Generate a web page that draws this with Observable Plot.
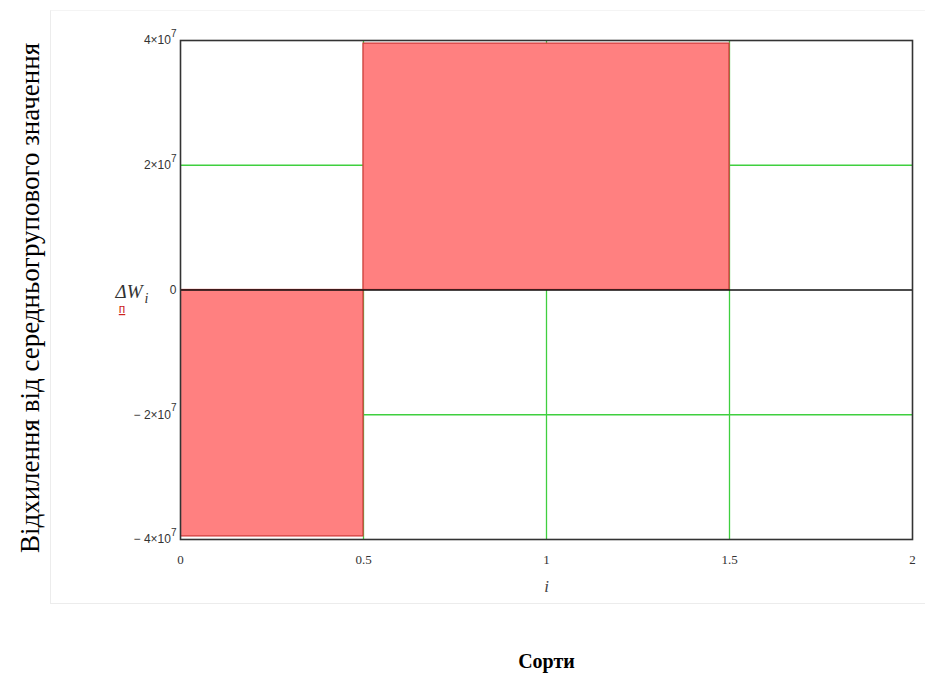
<!DOCTYPE html>
<html>
<head>
<meta charset="utf-8">
<script src="https://cdn.jsdelivr.net/npm/d3@7"></script>
<script src="https://cdn.jsdelivr.net/npm/@observablehq/plot@0.6"></script>
<style>
  html, body { margin: 0; padding: 0; background: #fff; }
  #wrap { position: relative; width: 930px; height: 673px; }
  #region { position: absolute; left: 50px; top: 10px; width: 875px; height: 594px; border-left: 1px solid #ececec; border-bottom: 1px solid #ececec; border-top: 1px solid #f4f4f4; box-sizing: border-box; }
  #chart { position: absolute; left: 0; top: 0; }
</style>
</head>
<body>
<div id="wrap"><div id="region"></div><div id="chart"></div></div>
<script>
const index = [0, 1];
const deltaW = [-3.95e7, 3.95e7];
const xTicks = [0, 0.5, 1, 1.5, 2];
const yTicks = [-4e7, -2e7, 0, 2e7, 4e7];
const yTickLabels = ["− 4×10^7", "− 2×10^7", "0", "2×10^7", "4×10^7"];
const xGrid = [0.5, 1, 1.5];
const yGrid = [-2e7, 2e7];
const yTitle = "Відхилення від середньогрупового значення";
const xLabel = "i";
const xTitle = "Сорти";

const bars = index.map((d, k) => ({i: d, v: deltaW[k]}));

const plot = Plot.plot({
  width: 930,
  height: 673,
  marginLeft: 180,
  marginRight: 18,
  marginTop: 40,
  marginBottom: 134,
  style: {background: "transparent", overflow: "visible"},
  x: {domain: [0, 2]},
  y: {domain: [-4e7, 4e7]},
  marks: [
    Plot.ruleX(xGrid, {stroke: "#3fcf3f", strokeWidth: 1.3}),
    Plot.ruleY(yGrid, {stroke: "#3fcf3f", strokeWidth: 1.3}),
    Plot.rect(bars, {x1: d => d.i - 0.5, x2: d => d.i + 0.5, y1: 0, y2: "v", fill: "#ff8080", stroke: "#d23c3c", strokeWidth: 1.3, clip: true}),
    Plot.ruleY([0], {stroke: "#111", strokeWidth: 1.5}),
    Plot.frame({stroke: "#333", strokeWidth: 1.6}),
    Plot.axisY({ticks: yTicks, tickSize: 0, tickPadding: 4, tickFormat: (d) => yTickLabels[yTicks.indexOf(d)], fontSize: 12, fontFamily: "Liberation Sans, DejaVu Sans, sans-serif", fill: "#333", label: null}),
    Plot.axisX({ticks: xTicks, tickSize: 0, tickPadding: 15, tickFormat: d => String(d), fontSize: 13, fontFamily: "Liberation Serif, serif", fill: "#333", label: null}),
    Plot.text([xLabel], {frameAnchor: "bottom", dy: 52, text: d => d, fontSize: 17, fontStyle: "italic", fontFamily: "Liberation Serif, serif", fill: "#444"}),
    Plot.text([xTitle], {frameAnchor: "bottom", dy: 128, text: d => d, fontSize: 20, fontWeight: "bold", fontFamily: "Liberation Serif, serif", fill: "#000"}),
    Plot.text([yTitle], {frameAnchor: "left", textAnchor: "middle", dx: -150, dy: 8, rotate: -90, text: d => d, fontSize: 27, fontFamily: "Liberation Serif, serif", fill: "#000"})
  ]
});

document.getElementById("chart").appendChild(plot);

// superscript exponents on y tick labels
d3.select(plot).selectAll('g[aria-label="y-axis tick label"] text').each(function() {
  const t = d3.select(this);
  const s = t.text();
  const m = s.split("^");
  if (m.length === 2) {
    t.text(null);
    t.append("tspan").text(m[0]);
    t.append("tspan").attr("dy", "-0.75em").attr("font-size", 10).text(m[1]);
  }
});

// legend label ΔW_i with trace marker
const svg = d3.select(plot);
const lg = svg.append("text").attr("x", 132).attr("y", 298).attr("font-family", "Liberation Serif, serif").attr("font-style", "italic").attr("font-size", 19).attr("fill", "#333");
lg.append("tspan").text("ΔW");
lg.append("tspan").attr("dy", 5).attr("dx", 2).attr("font-size", 14).text("i");
svg.append("text").attr("x", 122).attr("y", 313).attr("text-anchor", "middle").attr("font-family", "Liberation Sans, sans-serif").attr("font-size", 12).attr("fill", "#c22").attr("text-decoration", "underline").text("п");
</script>
</body>
</html>
